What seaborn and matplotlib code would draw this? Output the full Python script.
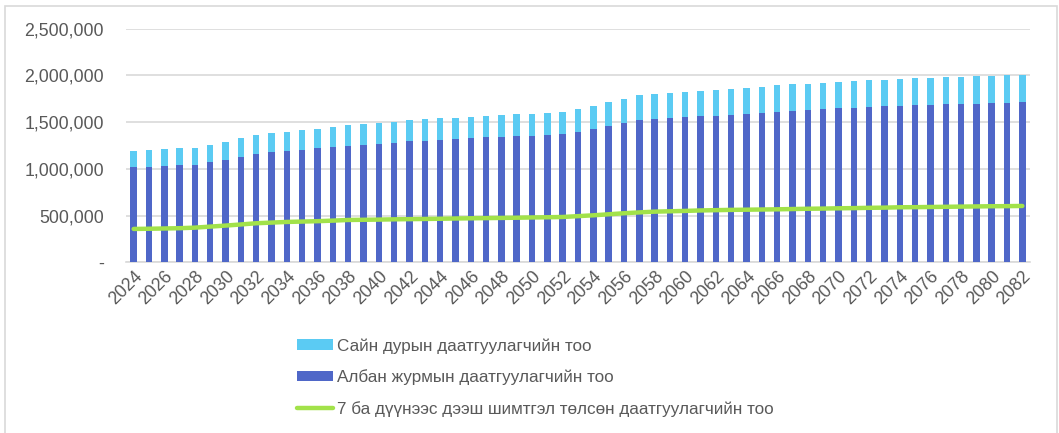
import numpy as np
import pandas as pd
import matplotlib
matplotlib.use("Agg")
import matplotlib.pyplot as plt
from matplotlib.patches import Rectangle
from matplotlib.lines import Line2D
from matplotlib.patches import Patch
import seaborn as sns

years = list(range(2024, 2083))

mandatory = [
    1020700, 1024000, 1035000, 1042000, 1046000, 1071000, 1099000, 1131000, 1163000, 1178000,
    1192000, 1206000, 1224000, 1238000, 1249000, 1260000, 1271000, 1281000, 1296000, 1303000,
    1313000, 1324000, 1328000, 1338000, 1346000, 1353000, 1356000, 1367000, 1374000, 1399000,
    1431000, 1463000, 1495000, 1524000, 1535000, 1545000, 1553000, 1563000, 1570000, 1581000,
    1592000, 1599000, 1610000, 1624000, 1635000, 1645000, 1649000, 1656000, 1667000, 1670000,
    1677000, 1685000, 1688000, 1695000, 1699000, 1699000, 1706000, 1706000, 1713000,
]

voluntary = [
    175000, 179000, 178000, 178000, 178000, 185000, 193000, 200000, 200000, 203000,
    203000, 211000, 207000, 215000, 218000, 218000, 221000, 225000, 228000, 228000,
    229000, 225000, 228000, 229000, 232000, 232000, 236000, 232000, 236000, 243000,
    246000, 250000, 254000, 264000, 264000, 264000, 271000, 275000, 275000, 275000,
    278000, 282000, 285000, 282000, 278000, 275000, 282000, 286000, 282000, 286000,
    282000, 285000, 289000, 289000, 289000, 296000, 293000, 296000, 293000,
]

paid7 = [
    357000, 359000, 362000, 365000, 371000, 382000, 393000, 405000, 418000, 425000,
    432000, 436000, 440000, 446000, 453000, 455000, 457000, 460000, 462000, 464000,
    466000, 469000, 471000, 473000, 475000, 477000, 480000, 482000, 485000, 494000,
    503000, 514000, 525000, 534000, 542000, 546000, 550000, 555000, 558000, 561000,
    563000, 565000, 567000, 570000, 573000, 575000, 578000, 580000, 583000, 585000,
    589000, 590000, 592000, 594000, 596000, 598000, 600000, 601000, 603000,
]

labels = [
    "Сайн дурын даатгуулагчийн тоо",
    "Албан журмын даатгуулагчийн тоо",
    "7 ба дүүнээс дээш шимтгэл төлсөн даатгуулагчийн тоо",
]
yticks = [0, 500000, 1000000, 1500000, 2000000, 2500000]
ytick_labels = ["-", "500,000", "1,000,000", "1,500,000", "2,000,000", "2,500,000"]

c_light = "#5BCBF3"
c_dark = "#4F67C8"
c_green = "#A2E24A"
c_text = "#595959"
c_grid = "#D9D9D9"

df = pd.DataFrame({
    "year": [str(y) for y in years],
    "mandatory": mandatory,
    "voluntary": voluntary,
    "paid7": paid7,
})
df["total"] = df["mandatory"] + df["voluntary"]

sns.set_style("white")
plt.rcParams["font.family"] = ["Liberation Sans", "DejaVu Sans"]

fig = plt.figure(figsize=(10.59, 4.33), dpi=100)
ax = fig.add_axes([126 / 1059, 1 - 262.3 / 433, (1030 - 126) / 1059, (262.3 - 28.7) / 433])

sns.barplot(data=df, x="year", y="total", color=c_light, width=0.42, ax=ax,
            saturation=1, edgecolor="none", zorder=2)
sns.barplot(data=df, x="year", y="mandatory", color=c_dark, width=0.42, ax=ax,
            saturation=1, edgecolor="none", zorder=3)
sns.lineplot(x=np.arange(len(years)), y=df["paid7"].values, color=c_green, linewidth=3.2,
             ax=ax, zorder=4)

ax.set_xlim(-0.5, len(years) - 0.5)
ax.set_ylim(0, 2500000)
ax.set_yticks(yticks)
ax.set_yticklabels(ytick_labels)
ax.set_xticks(np.arange(0, len(years), 2))
ax.set_xticklabels([str(y) for y in years[::2]], rotation=45, ha="right",
                   rotation_mode="anchor")
ax.tick_params(axis="both", length=0, labelsize=12.8, labelcolor=c_text)
ax.tick_params(axis="y", pad=16)
ax.tick_params(axis="x", pad=4)
ax.set_xlabel("")
ax.set_ylabel("")
ax.yaxis.grid(True, color=c_grid, linewidth=1.2, zorder=0)
ax.set_axisbelow(True)
for s in ["top", "right", "left"]:
    ax.spines[s].set_visible(False)
ax.spines["bottom"].set_color(c_grid)
ax.spines["bottom"].set_linewidth(1.2)

handles = [
    Patch(facecolor=c_light, edgecolor="none"),
    Patch(facecolor=c_dark, edgecolor="none"),
    Line2D([0], [0], color=c_green, linewidth=3.2),
]
leg = fig.legend(handles, labels, loc="upper left",
                 bbox_to_anchor=(297 / 1059, 1 - 338 / 433), frameon=False,
                 fontsize=12.3, handlelength=2.1, handleheight=0.57,
                 handletextpad=0.25, labelspacing=0.92, borderpad=0, borderaxespad=0)
for t in leg.get_texts():
    t.set_color(c_text)

fig.patches.append(Rectangle((5 / 1059, -0.1), (1057 - 5) / 1059, 1.1 - 6 / 433,
                             transform=fig.transFigure, fill=False,
                             edgecolor="#D9D9D9", linewidth=1.2))

fig.savefig("out.png", dpi=100)
